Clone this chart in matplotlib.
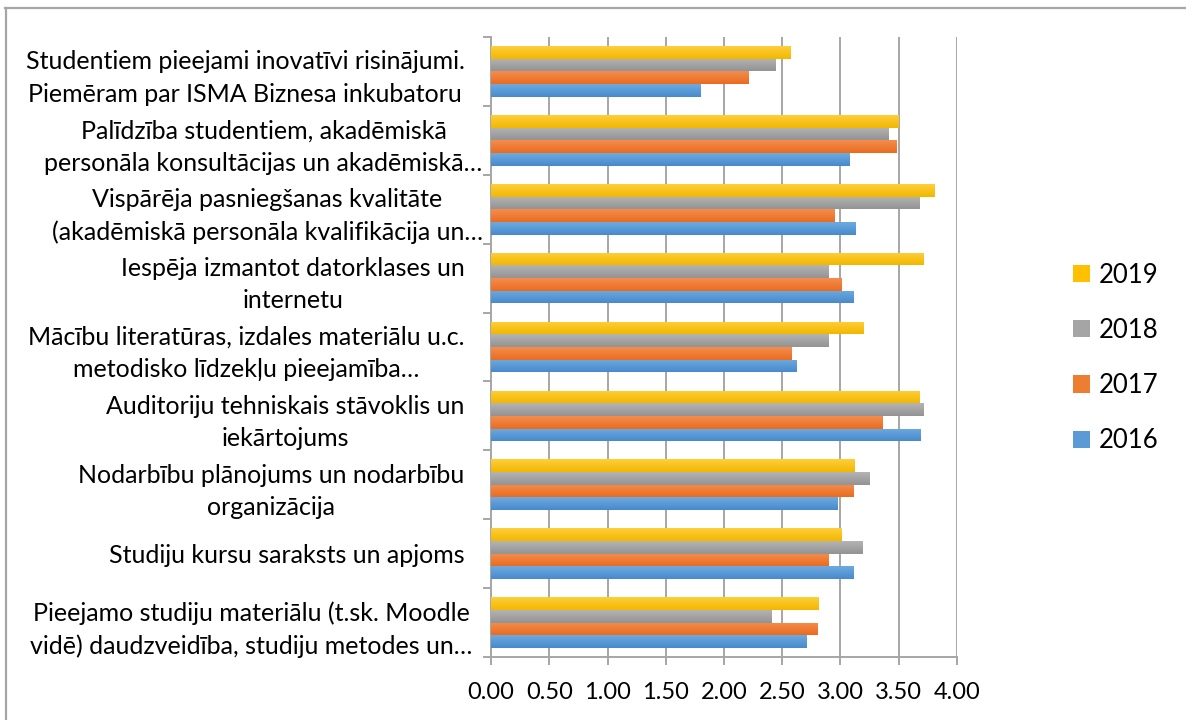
import matplotlib
matplotlib.use("Agg")
import matplotlib.pyplot as plt
import numpy as np
from matplotlib.lines import Line2D
from matplotlib.patches import Patch
from matplotlib.colors import LinearSegmentedColormap
from matplotlib.transforms import ScaledTranslation

plt.rcParams['font.family'] = ['Lato', 'DejaVu Sans']

categories = [
    "Studentiem pieejami inovatīvi risinājumi.\nPiemēram par ISMA Biznesa inkubatoru",
    "Palīdzība studentiem, akadēmiskā\npersonāla konsultācijas un akadēmiskā…",
    "Vispārēja pasniegšanas kvalitāte\n(akadēmiskā personāla kvalifikācija un…",
    "Iespēja izmantot datorklases un\ninternetu",
    "Mācību literatūras, izdales materiālu u.c.\nmetodisko līdzekļu pieejamība…",
    "Auditoriju tehniskais stāvoklis un\niekārtojums",
    "Nodarbību plānojums un nodarbību\norganizācija",
    "Studiju kursu saraksts un apjoms",
    "Pieejamo studiju materiālu (t.sk. Moodle\nvidē) daudzveidība, studiju metodes un…",
]
years = ["2019", "2018", "2017", "2016"]
v2019 = [2.57, 3.50, 3.81, 3.71, 3.20, 3.68, 3.12, 3.01, 2.81]
v2018 = [2.44, 3.41, 3.68, 2.90, 2.90, 3.71, 3.25, 3.19, 2.41]
v2017 = [2.21, 3.48, 2.95, 3.01, 2.58, 3.36, 3.11, 2.90, 2.80]
v2016 = [1.80, 3.08, 3.13, 3.11, 2.62, 3.69, 2.97, 3.11, 2.71]
series = [v2019, v2018, v2017, v2016]
xticks = [0.0, 0.5, 1.0, 1.5, 2.0, 2.5, 3.0, 3.5, 4.0]

colors = ["#FFC000", "#A5A5A5", "#ED7D31", "#5B9BD5"]
grad_top = ["#FFCF3A", "#B4B4B4", "#F58D4E", "#6EAAE0"]
grad_bot = ["#F2B700", "#939393", "#E96C1F", "#478ACC"]

W, H = 1186, 720
fig = plt.figure(figsize=(W / 100, H / 100), dpi=100)
ax = fig.add_axes([491 / W, 63 / H, (957 - 491) / W, (657 - 37) / H])

n = len(categories)
ypos = np.arange(n)
bh = 0.184
offsets = [-1.5 * bh, -0.5 * bh, 0.5 * bh, 1.5 * bh]

for i, (vals, c, ct, cb) in enumerate(zip(series, colors, grad_top, grad_bot)):
    bars = ax.barh(ypos + offsets[i], vals, height=bh, color=c, zorder=3, linewidth=0)
    cmap = LinearSegmentedColormap.from_list("g%d" % i, [ct, cb])
    grad = np.linspace(0, 1, 64).reshape(-1, 1)
    for b in bars:
        x0, y0 = b.get_x(), b.get_y()
        w, h = b.get_width(), b.get_height()
        im = ax.imshow(grad, cmap=cmap, aspect='auto', extent=(x0, x0 + w, y0 + h, y0),
                       origin='upper', zorder=3.5, interpolation='bilinear')
        im.set_clip_path(b)

ax.set_xlim(0, 4)
ax.set_ylim(n - 0.5, -0.5)
ax.set_xticks(xticks)
ax.set_xticklabels(["%.2f" % t for t in xticks])
ax.set_yticks(ypos)
ax.set_yticklabels(categories, multialignment='center')
ax.set_yticks(np.arange(n + 1) - 0.5, minor=True)

grid_c = "#A6A6A6"
ax.grid(axis='x', color=grid_c, linewidth=1.4, zorder=0)
ax.set_axisbelow(True)
for s in ['top', 'right']:
    ax.spines[s].set_visible(False)
for s in ['left', 'bottom']:
    ax.spines[s].set_color(grid_c)
    ax.spines[s].set_linewidth(1.4)

ax.tick_params(axis='y', which='major', length=0, pad=19, labelsize=18, labelcolor='#000000')
ax.tick_params(axis='y', which='minor', length=6, width=1.4, color=grid_c, direction='out')
ax.tick_params(axis='x', which='major', length=6, width=1.4, color=grid_c, direction='out',
               pad=12, labelsize=17, labelcolor='#000000')
shifts = {1: 18, 2: 18, 8: 8}
for k, lab in enumerate(ax.get_yticklabels()):
    lab.set_linespacing(1.49)
    if k in shifts:
        lab.set_transform(lab.get_transform() + ScaledTranslation(shifts[k] / 100, 0, fig.dpi_scale_trans))

handles = [Patch(facecolor=c, edgecolor='none') for c in colors]
fig.legend(handles, years, loc='center left', bbox_to_anchor=(1050 / W, 1 - 358 / H),
           frameon=False, fontsize=18.5, handlelength=0.66, handleheight=0.66,
           handletextpad=0.35, labelspacing=1.18)

fig.add_artist(Line2D([5 / W, 1.0], [1 - 7.5 / H, 1 - 7.5 / H], transform=fig.transFigure,
                      color=grid_c, linewidth=1.6))
fig.add_artist(Line2D([5.5 / W, 5.5 / W], [1 - 7.5 / H, 0.0], transform=fig.transFigure,
                      color=grid_c, linewidth=1.6))

fig.savefig("out.png", dpi=100, facecolor='white')
